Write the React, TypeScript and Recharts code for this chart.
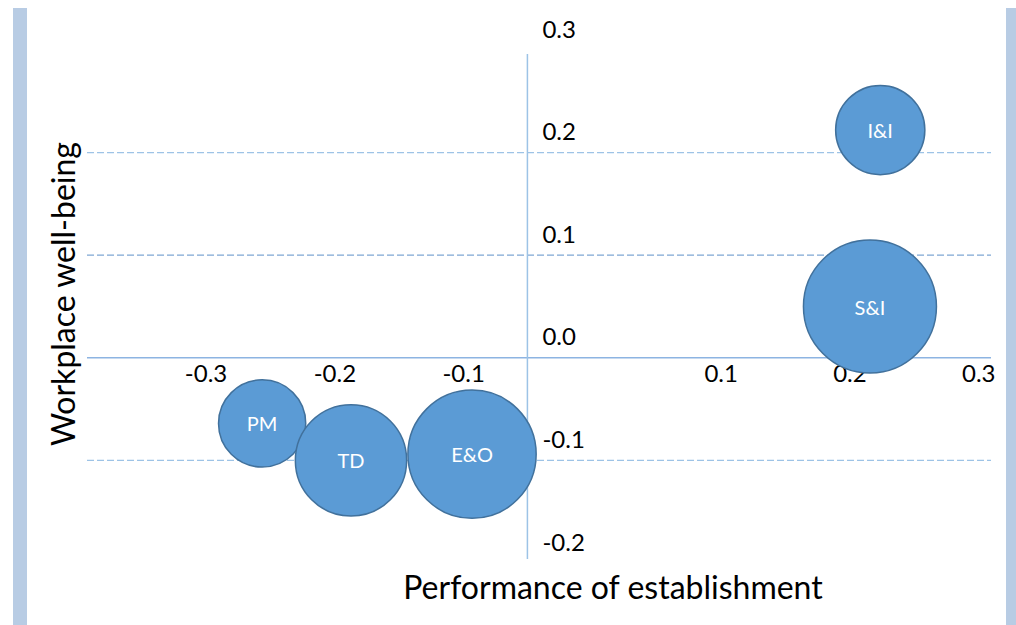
import { ScatterChart, Scatter, XAxis, YAxis, ZAxis, ReferenceLine, ReferenceDot } from 'recharts'

const names = ['PM', 'TD', 'E&O', 'I&I', 'S&I']
const performance = [-0.206, -0.137, -0.043, 0.274, 0.266]
const wellBeing = [-0.064, -0.1, -0.094, 0.222, 0.05]
const bubbleSize = [4.3, 7, 9.3, 4.5, 10]

const xTicks = [-0.3, -0.2, -0.1, 0.1, 0.2, 0.3]
const yTicks = [0.3, 0.2, 0.1, 0, -0.1, -0.2]

const data = names.map((name, i) => ({
  name,
  x: performance[i],
  y: wellBeing[i],
  z: bubbleSize[i],
}))

const font = 'Lato, "Open Sans", sans-serif'

function Bubble(props: any) {
  const { cx, cy, width, payload } = props
  const r = width / 2
  return (
    <g>
      <circle cx={cx} cy={cy} r={r} fill="#5B9BD5" stroke="#41719C" strokeWidth={1.5} />
      <text
        x={cx}
        y={cy}
        textAnchor="middle"
        dominantBaseline="central"
        fill="#fff"
        fontSize={20}
        fontFamily={font}
      >
        {payload.name}
      </text>
    </g>
  )
}

const xTickLabel = (text: string) => (props: any) => {
  const { viewBox } = props
  return (
    <text
      x={viewBox.x + 65}
      y={viewBox.y + 15}
      textAnchor="middle"
      dominantBaseline="central"
      fontSize={24}
      fontFamily={font}
      fill="#000"
    >
      {text}
    </text>
  )
}

const yTickLabel = (text: string) => (props: any) => {
  const { viewBox } = props
  return (
    <text
      x={viewBox.x + 15}
      y={viewBox.y - 22}
      textAnchor="start"
      dominantBaseline="central"
      fontSize={24}
      fontFamily={font}
      fill="#000"
    >
      {text}
    </text>
  )
}

export default function App() {
  return (
    <div style={{ position: 'absolute', left: 0, top: 0, width: 1016, height: 625, background: '#fff', fontFamily: font }}>
      <div style={{ position: 'absolute', left: 13, top: 8, width: 14, height: 617, background: '#B8CCE4' }} />
      <div style={{ position: 'absolute', left: 1006, top: 8, width: 10, height: 617, background: '#B8CCE4' }} />
      <div style={{ position: 'absolute', left: 0, top: 0 }}>
        <ScatterChart width={1016} height={625} margin={{ top: 50, right: 25, bottom: 62, left: 87 }}>
          <XAxis type="number" dataKey="x" domain={[-0.342, 0.36]} hide />
          <YAxis type="number" dataKey="y" domain={[-0.2, 0.3]} hide />
          <ZAxis type="number" dataKey="z" domain={[0, 10]} range={[0, 13893]} />
          <ReferenceLine y={0.2} stroke="#9DC3E6" strokeWidth={1.3} strokeDasharray="7 3" />
          <ReferenceLine y={0.1} stroke="#7FA7D3" strokeWidth={1.3} strokeDasharray="7 3" />
          <ReferenceLine y={-0.1} stroke="#9DC3E6" strokeWidth={1.3} strokeDasharray="7 3" />
          <ReferenceLine y={0} stroke="#8DB4E2" strokeWidth={1.5} />
          <ReferenceLine
            segment={[{ x: 0, y: -0.196 }, { x: 0, y: 0.296 }]}
            stroke="#9DC3E6"
            strokeWidth={1.5}
          />
          {xTicks.map((t) => (
            <ReferenceDot key={'x' + t} x={t} y={0} r={0} fill="none" stroke="none" label={xTickLabel(t.toFixed(1))} />
          ))}
          {yTicks.map((t) => (
            <ReferenceDot key={'y' + t} x={0} y={t} r={0} fill="none" stroke="none" label={yTickLabel(t.toFixed(1))} />
          ))}
          <Scatter data={data} shape={Bubble} isAnimationActive={false} />
          <text
            x={62}
            y={294}
            transform="rotate(-90 62 294)"
            textAnchor="middle"
            dominantBaseline="central"
            fontSize={32}
            fontFamily={font}
            fill="#000"
          >
            Workplace well-being
          </text>
          <text
            x={613}
            y={586}
            textAnchor="middle"
            dominantBaseline="central"
            fontSize={32}
            fontFamily={font}
            fill="#000"
          >
            Performance of establishment
          </text>
        </ScatterChart>
      </div>
    </div>
  )
}
